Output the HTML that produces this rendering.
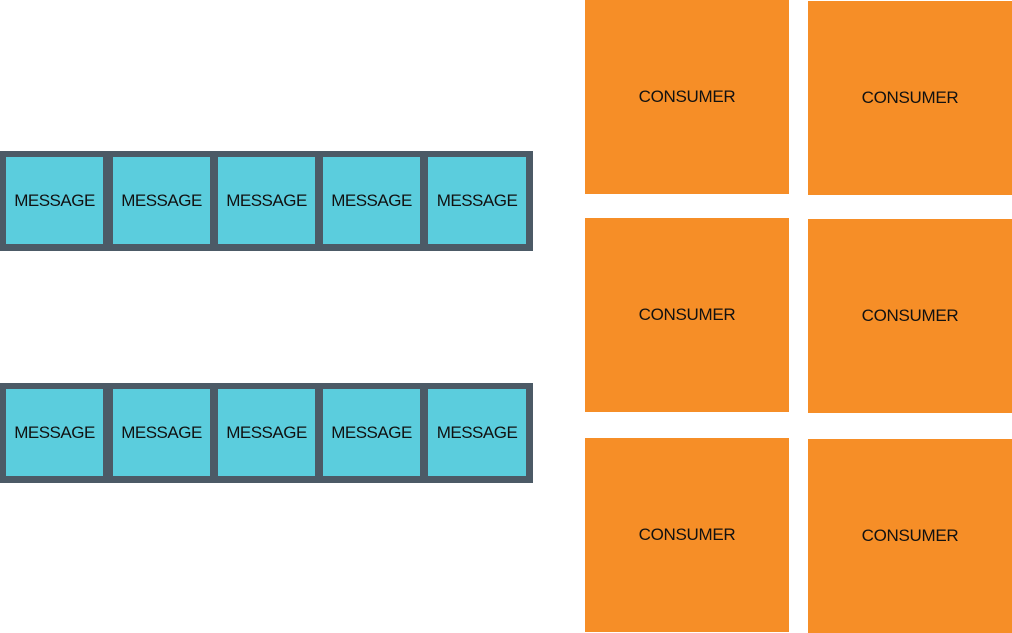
<!DOCTYPE html>
<html><head><style>
body{margin:0;width:1012px;height:633px;background:#fff;position:relative;overflow:hidden;font-family:"Liberation Sans",sans-serif}
.bar{position:absolute;left:0;width:533px;height:100px;background:#4c5a66}
.m{position:absolute;top:6px;height:87px;background:#5bcddd;color:#111;font-size:17px;display:flex;align-items:center;justify-content:center;letter-spacing:-0.5px}
.c{position:absolute;width:204px;height:194px;background:#f68e27;color:#111;font-size:17px;display:flex;align-items:center;justify-content:center;letter-spacing:-0.3px}
</style></head><body>
<div class="bar" style="top:151px">
<div class="m" style="left:6px;width:97px">MESSAGE</div>
<div class="m" style="left:113px;width:97px">MESSAGE</div>
<div class="m" style="left:218px;width:97px">MESSAGE</div>
<div class="m" style="left:323px;width:97px">MESSAGE</div>
<div class="m" style="left:428px;width:98px">MESSAGE</div>
</div>
<div class="bar" style="top:383px">
<div class="m" style="left:6px;width:97px">MESSAGE</div>
<div class="m" style="left:113px;width:97px">MESSAGE</div>
<div class="m" style="left:218px;width:97px">MESSAGE</div>
<div class="m" style="left:323px;width:97px">MESSAGE</div>
<div class="m" style="left:428px;width:98px">MESSAGE</div>
</div>
<div class="c" style="left:585px;top:0">CONSUMER</div>
<div class="c" style="left:808px;top:1px">CONSUMER</div>
<div class="c" style="left:585px;top:218px">CONSUMER</div>
<div class="c" style="left:808px;top:219px">CONSUMER</div>
<div class="c" style="left:585px;top:438px">CONSUMER</div>
<div class="c" style="left:808px;top:439px">CONSUMER</div>
</body></html>
